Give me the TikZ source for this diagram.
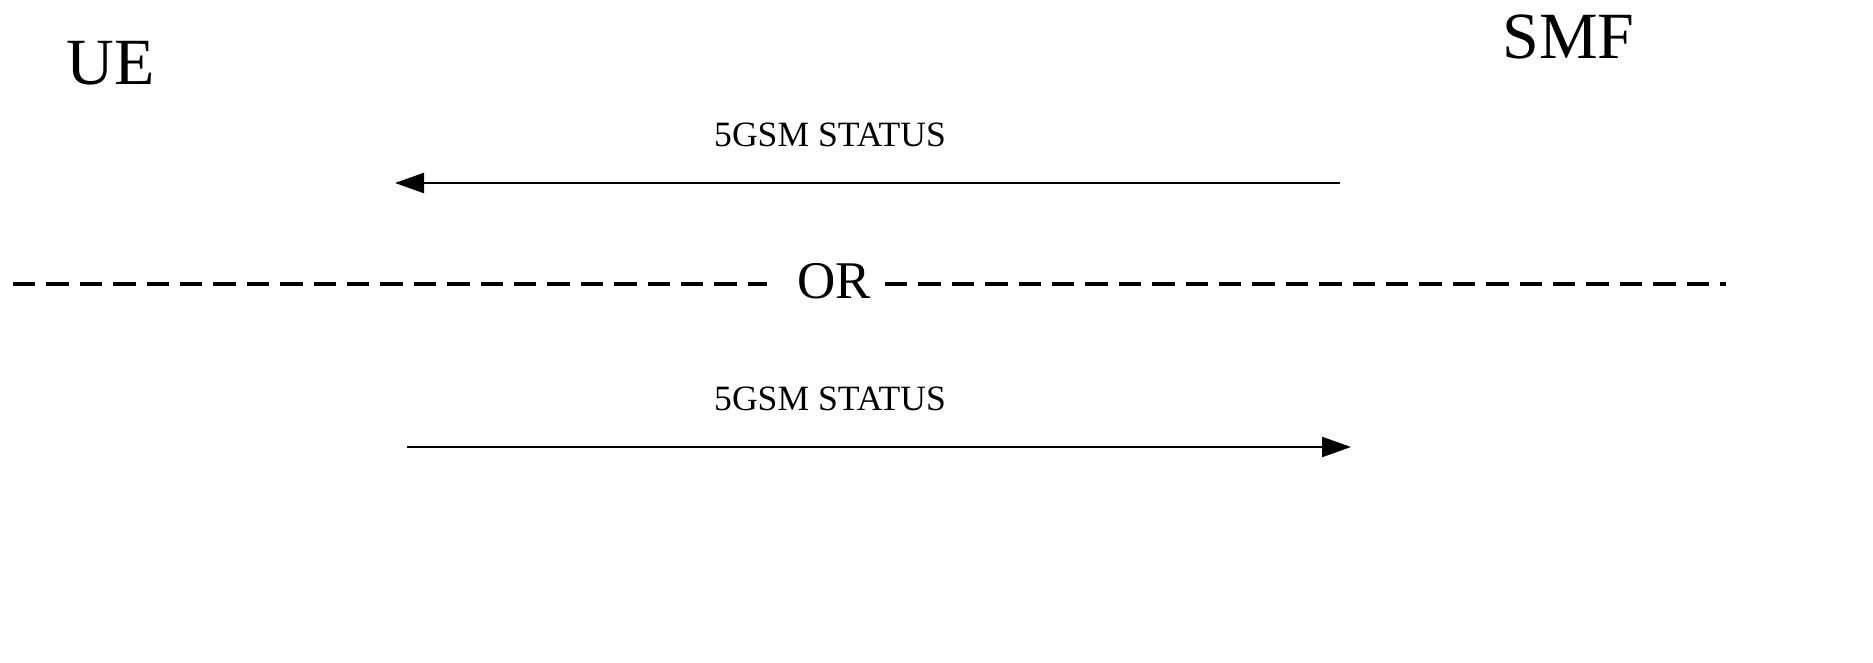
\documentclass[tikz,border=0pt]{standalone}
\usepackage{fontspec}
\setmainfont{Liberation Serif}
\usetikzlibrary{arrows.meta}
\begin{document}
\begin{tikzpicture}[x=0.5pt, y=-0.5pt,
    entity/.style={inner sep=0, anchor=base west, font=\fontsize{33}{33}\selectfont},
    msglabel/.style={inner sep=0, anchor=base, font=\fontsize{17.8}{17.8}\selectfont},
    msg/.style={line width=1.2pt, -{Triangle[length=14.5pt, width=10pt]}},
    sep/.style={line width=1.5pt, dash pattern=on 11.2pt off 5.5pt}]
    \useasboundingbox (0, 0) rectangle (1873, 663) ;

    \node[entity] (ue) at (66, 85) {UE} ;
    \node[entity] (smf) at (1502, 59) {SMF} ;

    % SMF -> UE
    \node[msglabel] (status1) at (830, 147) {5GSM STATUS} ;
    \coordinate (smf1) at (1340, 183) ;
    \coordinate (ue1) at (395, 183) ;
    \draw[msg] (smf1) -- (ue1) ;

    % separator
    \node[inner sep=0, anchor=base, font=\fontsize{26.5}{26.5}\selectfont] (or) at (834, 299) {OR} ;
    \coordinate (sepl) at (13, 284) ;
    \coordinate (sepa) at (767, 284) ;
    \coordinate (sepb) at (885, 284) ;
    \coordinate (sepr) at (1726, 284) ;
    \draw[sep] (sepl) -- (sepa) ;
    \draw[sep] (sepb) -- (sepr) ;

    % UE -> SMF
    \node[msglabel] (status2) at (830, 410) {5GSM STATUS} ;
    \coordinate (ue2) at (407, 447) ;
    \coordinate (smf2) at (1351, 447) ;
    \draw[msg] (ue2) -- (smf2) ;
\end{tikzpicture}
\end{document}
